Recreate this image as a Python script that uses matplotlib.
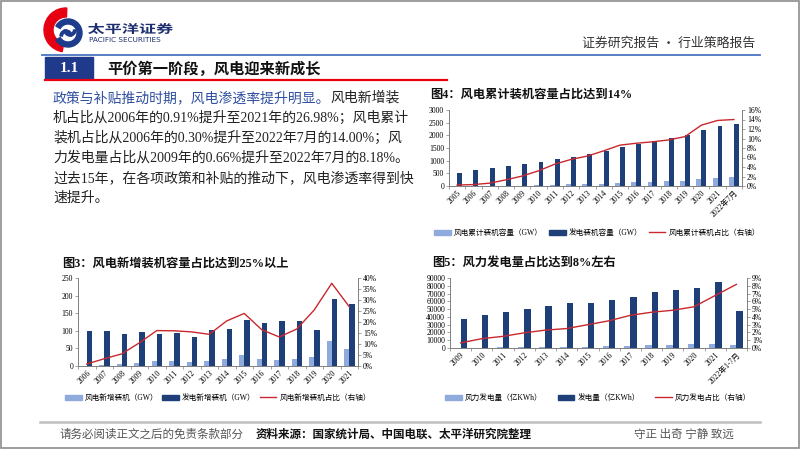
import numpy as np
import matplotlib.pyplot as plt
from matplotlib.patches import Rectangle, Wedge, Patch, PathPatch
from matplotlib.lines import Line2D
from matplotlib.textpath import TextPath
from matplotlib.font_manager import FontProperties
from matplotlib.transforms import Affine2D
from matplotlib.ticker import MultipleLocator, FuncFormatter

# ---- data ----
cum_years = ['2005', '2006', '2007', '2008', '2009', '2010', '2011', '2012', '2013',
             '2014', '2015', '2016', '2017', '2018', '2019', '2020', '2021', '2022年7月']
cum_wind = [1.3, 2.6, 5.9, 12, 17.6, 29.6, 46, 61, 76, 96, 131, 149, 164, 184, 210, 282, 328, 342]
cum_total = [517, 622, 718, 793, 874, 966, 1063, 1147, 1258, 1370, 1525, 1651, 1777, 1900,
             2011, 2200, 2377, 2441]
cum_ratio = [0.2, 0.3, 0.6, 1.3, 2.1, 3.2, 4.6, 5.6, 6.3, 7.4, 8.6, 9.0, 9.3, 9.7, 10.4,
             12.8, 13.8, 14.0]

new_years = ['2006', '2007', '2008', '2009', '2010', '2011', '2012', '2013', '2014', '2015',
             '2016', '2017', '2018', '2019', '2020', '2021']
new_wind = [1.3, 3.3, 4.6, 9, 14, 14.5, 12.5, 14.5, 20.5, 30.7, 20, 16, 20.5, 25.5, 71.7, 47.6]
new_total = [100, 99, 91, 96, 90, 94, 83, 102, 105, 131, 121, 129, 127, 101, 190, 176]
new_ratio = [0.91, 3.3, 5.5, 10.5, 16.1, 16.0, 15.5, 14.4, 20.5, 23.9, 16.5, 13.2, 16.8, 25.5,
             37.6, 26.98]

gen_years = ['2009', '2010', '2011', '2012', '2013', '2014', '2015', '2016', '2017', '2018',
             '2019', '2020', '2021', '2022年1-7月']
gen_wind = [276, 494, 741, 1030, 1383, 1598, 1856, 2410, 3057, 3660, 4057, 4665, 5667, 3900]
gen_total = [36800, 42000, 46700, 49800, 54500, 58000, 58000, 61400, 65800, 71400, 74900,
             77500, 85200, 47600]
gen_ratio = [0.66, 1.2, 1.5, 1.95, 2.3, 2.5, 3.0, 3.5, 4.2, 4.6, 4.85, 5.3, 6.75, 8.18]

LIGHT = '#8FAADC'
DARK = '#1F3F78'
RED = '#C8282E'
NAVY = '#1D2F6F'
MIX = ['Liberation Serif', 'Noto Sans CJK SC']
SANS = ['Noto Sans CJK SC', 'DejaVu Sans']

plt.rcParams['font.family'] = MIX

fig = plt.figure(figsize=(8.02, 4.51), dpi=100)
bg = fig.add_axes([0, 0, 1, 1])
bg.set_xlim(0, 802)
bg.set_ylim(451, 0)
bg.axis('off')

# frame
bg.add_patch(Rectangle((1, 1), 798, 447, fill=False, ec='#8C8C8C', lw=1.2))

# logo
bg.add_patch(Wedge((66, 30), 22, 100, 272, width=9, color='#E60012'))
bg.add_patch(Wedge((68, 33), 14, -150, 150, width=5, color='#1E3C8C'))
bg.add_patch(Wedge((66, 36), 6, 180, 360, width=2.5, color='#1E3C8C'))
bg.add_patch(Wedge((70, 30), 6, 0, 180, width=2.5, color='#1E3C8C'))
# wide company name (stretched horizontally like the original)
tp = TextPath((0, 0), '太平洋证券', size=12,
              prop=FontProperties(family='Noto Sans CJK SC', weight='bold'))
ext = tp.get_extents()
sx = 85 / ext.width
tr = Affine2D().translate(-ext.x0, -ext.y0).scale(sx, -11 / ext.height).translate(88, 34)
bg.add_patch(PathPatch(tr.transform_path(tp), color=NAVY, lw=0))
bg.text(89, 39.5, 'PACIFIC SECURITIES', fontsize=5.2, color=NAVY, family='DejaVu Sans',
        va='center', ha='left')

# header
bg.text(755, 43, '证券研究报告 • 行业策略报告', fontsize=9.3, color='#333333',
        family=SANS, va='center', ha='right')
bg.plot([42, 760], [55, 55], color='#4A74C0', lw=1.3)

# section title
bg.add_patch(Rectangle((45, 57), 48, 22, color='#1F3A8A'))
bg.text(69, 68.5, '1.1', fontsize=11, fontweight='bold', color='white',
        family='Liberation Serif', va='center', ha='center')
bg.text(107, 68.5, '平价第一阶段，风电迎来新成长', fontsize=11, fontweight='bold',
        color='#111111', family=SANS, va='center', ha='left')
bg.plot([45, 447], [80, 80], color='#E60012', lw=1.6)

# paragraph
renderer = fig.canvas.get_renderer()
t = bg.text(53, 98, '政策与补贴推动时期，风电渗透率提升明显。', fontsize=10,
            color='#2F4F9F', va='center', ha='left')
bb = t.get_window_extent(renderer)
bg.text(bb.x1, 98, '风电新增装', fontsize=10, color='#222222', va='center', ha='left')
lines = ['机占比从2006年的0.91%提升至2021年的26.98%；风电累计',
         '装机占比从2006年的0.30%提升至2022年7月的14.00%；风',
         '力发电量占比从2009年的0.66%提升至2022年7月的8.18%。',
         '过去15年，在各项政策和补贴的推动下，风电渗透率得到快',
         '速提升。']
for i, s in enumerate(lines):
    bg.text(53, 118 + 20 * i, s, fontsize=10, color='#222222', va='center', ha='left')

# footer
bg.plot([40, 760], [421.5, 421.5], color='#BFBFBF', lw=1.8)
bg.text(59, 434, '请务必阅读正文之后的免责条款部分', fontsize=8.3, color='#555555',
        family=SANS, va='center', ha='left')
bg.text(256, 434, '资料来源：国家统计局、中国电联、太平洋研究院整理', fontsize=8.3,
        fontweight='bold', color='#111111', family=SANS, va='center', ha='left')
bg.text(634, 434, '守正 出奇 宁静 致远', fontsize=8.3, color='#555555',
        family=SANS, va='center', ha='left')


def px_rect(left, top, right, bottom):
    return [left / 802, 1 - bottom / 451, (right - left) / 802, (bottom - top) / 451]


def chart(rect, cats, wind, total, ratio, ystep, ymax, rstep, rmax, bw):
    ax = fig.add_axes(rect)
    x = np.arange(len(cats))
    ax.bar(x - bw / 2, wind, bw, color=LIGHT)
    ax.bar(x + bw / 2, total, bw, color=DARK)
    ax.set_xlim(-0.5, len(cats) - 0.5)
    ax.set_ylim(0, ymax)
    ax.yaxis.set_major_locator(MultipleLocator(ystep))
    ax.set_xticks(x)
    ax.set_xticklabels(cats, rotation=45, ha='right', rotation_mode='anchor')
    ax.set_xticks(np.arange(len(cats) + 1) - 0.5, minor=True)
    ax.tick_params(axis='x', which='major', length=0, labelsize=5.5, pad=2)
    ax.tick_params(axis='x', which='minor', length=2, width=0.5, color='#7F7F7F')
    ax.tick_params(axis='y', labelsize=5.5, length=2, width=0.5, color='#7F7F7F', pad=1.5)
    ax.spines['top'].set_visible(False)
    for s in ['left', 'right', 'bottom']:
        ax.spines[s].set_linewidth(0.6)
        ax.spines[s].set_color('#7F7F7F')
    ax2 = ax.twinx()
    ax2.plot(x, ratio, color=RED, lw=1.0)
    ax2.set_ylim(0, rmax)
    ax2.yaxis.set_major_locator(MultipleLocator(rstep))
    ax2.yaxis.set_major_formatter(FuncFormatter(lambda v, p: f'{v:.0f}%'))
    ax2.tick_params(axis='y', labelsize=5.5, length=2, width=0.5, color='#7F7F7F', pad=1.5)
    ax2.spines['top'].set_visible(False)
    for s in ['left', 'right', 'bottom']:
        ax2.spines[s].set_linewidth(0.6)
        ax2.spines[s].set_color('#7F7F7F')
    return ax


def legend(labels, cx, cy, spacing):
    handles = [Patch(color=LIGHT), Patch(color=DARK), Line2D([], [], color=RED, lw=1.0)]
    fig.legend(handles, labels, loc='center', bbox_to_anchor=(cx / 802, 1 - cy / 451),
               ncol=3, frameon=False, prop={'family': MIX, 'size': 5.5},
               handlelength=2.2, handleheight=0.6, handletextpad=0.4,
               columnspacing=spacing, borderpad=0)


# chart 4
bg.text(430, 95, '图4：风电累计装机容量占比达到14%', fontsize=8.8, fontweight='bold',
        color='#111111', va='center', ha='left')
chart(px_rect(449, 110, 742, 186), cum_years, cum_wind, cum_total, cum_ratio,
      500, 3000, 2, 16, 0.3)
legend(['风电累计装机容量（GW）', '发电装机容量（GW）', '风电累计装机占比（右轴）'],
       597, 233, 0.8)

# chart 3
bg.text(62, 264, '图3：风电新增装机容量占比达到25%以上', fontsize=8.8, fontweight='bold',
        color='#111111', va='center', ha='left')
chart(px_rect(78, 278, 358, 366), new_years, new_wind, new_total, new_ratio,
      50, 250, 5, 40, 0.3)
legend(['风电新增装机（GW）', '发电新增装机（GW）', '风电新增装机占比（右轴）'],
       218, 398, 0.5)

# chart 5
bg.text(432, 263, '图5：风力发电量占比达到8%左右', fontsize=8.8, fontweight='bold',
        color='#111111', va='center', ha='left')
chart(px_rect(450, 278, 747, 348), gen_years, gen_wind, gen_total, gen_ratio,
      10000, 90000, 1, 9, 0.3)
legend(['风力发电量（亿KWh）', '发电量（亿KWh）', '风力发电占比（右轴）'],
       598, 398, 2.0)

fig.savefig('out.png', dpi=100)
